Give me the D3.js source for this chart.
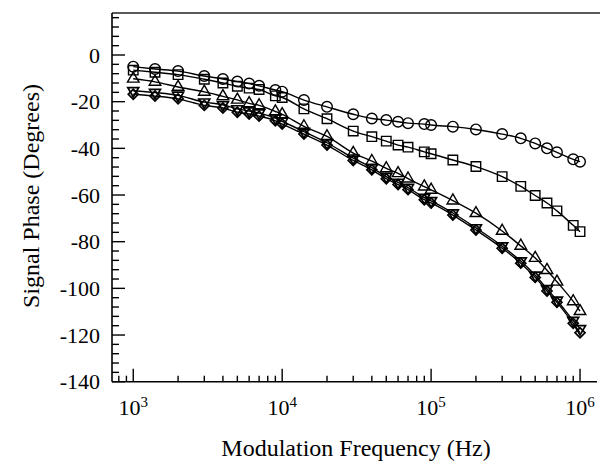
<!DOCTYPE html>
<html>
<head>
<meta charset="utf-8">
<script src="https://cdn.jsdelivr.net/npm/d3@7"></script>
<style>
  body { margin: 0; background: #fff; }
  svg { display: block; }
  text { font-family: "Liberation Serif", "Times New Roman", serif; fill: #000; }
</style>
</head>
<body>
<svg id="svg"></svg>
<script>
var width = 600, height = 464;

// modulation frequencies (Hz)
var freq = [1e3, 1.4e3, 2e3, 3e3, 4e3, 5e3, 6e3, 7e3, 9e3, 1e4,
            1.4e4, 2e4, 3e4, 4e4, 5e4, 6e4, 7e4, 9e4, 1e5,
            1.4e5, 2e5, 3e5, 4e5, 5e5, 6e5, 7e5, 9e5, 1e6];

// signal phase (degrees), one array per marker
var phaseCircle = [-5, -6, -6.9, -9, -10.3, -11.4, -12.2, -13.2, -15, -15.7,
                   -19.3, -22.2, -25.4, -27.2, -27.9, -28.6, -29.2, -29.6, -30,
                   -30.7, -31.9, -33.9, -35.7, -37.9, -40, -41.7, -44.7, -45.7];
var phaseSquare = [-6.5, -7.4, -8.4, -10.4, -12, -13.4, -14.2, -14.8, -17.5, -18.2,
                   -23.1, -27.3, -32.6, -35, -36.9, -38.6, -39.5, -41.5, -42.3,
                   -45, -47.8, -52.1, -56.3, -60.2, -63.4, -66.8, -73, -75.7];
var phaseTriangle = [-10.2, -11.5, -13.7, -15.8, -17.7, -19.2, -20.7, -21.6, -24.2, -25.4,
                     -30.6, -34.9, -42, -45.5, -48.6, -50.7, -53, -56.4, -57.8,
                     -62.4, -67.8, -75.4, -81.8, -87, -92.2, -97.2, -105.6, -109.8];
var phaseInvTriangle = [-15.3, -16.1, -17.3, -20.2, -21.3, -23.1, -24, -24.9, -27, -28.4,
                        -32.8, -37.6, -44.2, -48.3, -52.1, -54.6, -56.8, -61.1, -62.5,
                        -67.7, -74.1, -81.9, -88.3, -94.4, -100.2, -105.1, -113.8, -117.3];
var phaseDiamond = [-16.8, -17.6, -18.8, -21.6, -22.7, -24.5, -25.3, -26.2, -28.2, -29.6,
                    -33.9, -38.6, -45.2, -49.2, -53, -55.5, -57.7, -62, -63.4,
                    -68.6, -75, -82.8, -89.2, -95.3, -101.1, -106, -115, -119];

var yTickValues = [0, -20, -40, -60, -80, -100, -120, -140];
var xTickValues = [1e3, 1e4, 1e5, 1e6];
var xTickExp = ["3", "4", "5", "6"];

var series = [
    {values: phaseCircle, shape: "circle"},
    {values: phaseSquare, shape: "square"},
    {values: phaseTriangle, shape: "triangle"},
    {values: phaseInvTriangle, shape: "invtriangle"},
    {values: phaseDiamond, shape: "diamond"}
];

var plotLeft = 112, plotRight = 597, plotTop = 13, plotBottom = 381.7;

var x = d3.scaleLog().domain([720, 1.3e6]).range([plotLeft, plotRight]);
var y = d3.scaleLinear().domain([-140, 18]).range([plotBottom, plotTop]);

var svg = d3.select("#svg").attr("width", width).attr("height", height);

// frame: left axis, bottom axis, top line (no right border)
svg.append("line").attr("x1", plotLeft).attr("x2", width).attr("y1", plotTop).attr("y2", plotTop)
    .attr("stroke", "#222").attr("stroke-width", 1.5);
svg.append("line").attr("x1", plotLeft).attr("x2", plotLeft).attr("y1", plotTop).attr("y2", plotBottom)
    .attr("stroke", "#000").attr("stroke-width", 1.6);
svg.append("line").attr("x1", plotLeft).attr("x2", plotRight).attr("y1", plotBottom).attr("y2", plotBottom)
    .attr("stroke", "#000").attr("stroke-width", 1.6);

// y ticks: major every 20, minor every 4
var yMinor = d3.range(-140, 18, 4);
svg.selectAll(".yminor").data(yMinor).enter().append("line")
    .attr("x1", plotLeft).attr("x2", function(d) { return d % 20 === 0 ? plotLeft + 13 : plotLeft + 7; })
    .attr("y1", function(d) { return y(d); }).attr("y2", function(d) { return y(d); })
    .attr("stroke", "#000").attr("stroke-width", 1.4);

svg.selectAll(".ylab").data(yTickValues).enter().append("text")
    .attr("x", 100).attr("y", function(d) { return y(d); })
    .attr("dy", "0.35em").attr("text-anchor", "end")
    .style("font-size", "22px")
    .text(function(d) { return d === 0 ? "0" : "-" + Math.abs(d); });

// x ticks
var xMinor = [];
[100, 1000, 10000, 100000].forEach(function(dec) {
    for (var m = 2; m <= 9; ++m) {
        var v = dec * m;
        if (v > x.domain()[0] && v < x.domain()[1]) xMinor.push(v);
    }
});
svg.selectAll(".xminor").data(xMinor).enter().append("line")
    .attr("x1", function(d) { return x(d); }).attr("x2", function(d) { return x(d); })
    .attr("y1", plotBottom).attr("y2", plotBottom - 6)
    .attr("stroke", "#000").attr("stroke-width", 1.4);
svg.selectAll(".xmajor").data(xTickValues).enter().append("line")
    .attr("x1", function(d) { return x(d); }).attr("x2", function(d) { return x(d); })
    .attr("y1", plotBottom).attr("y2", plotBottom - 13)
    .attr("stroke", "#000").attr("stroke-width", 1.4);

var xl = svg.selectAll(".xlab").data(xTickValues).enter().append("text")
    .attr("x", function(d) { return x(d); }).attr("y", 415)
    .attr("text-anchor", "middle")
    .style("font-size", "22px");
xl.append("tspan").text("10");
xl.append("tspan").attr("dy", -8).style("font-size", "15px")
    .text(function(d, i) { return xTickExp[i]; });

// axis titles
svg.append("text").attr("x", 356).attr("y", 456).attr("text-anchor", "middle")
    .style("font-size", "24px").text("Modulation Frequency (Hz)");
svg.append("text").attr("transform", "translate(39,196) rotate(-90)")
    .attr("text-anchor", "middle")
    .style("font-size", "24px").text("Signal Phase (Degrees)");

// lines
var line = d3.line()
    .x(function(d) { return x(d[0]); })
    .y(function(d) { return y(d[1]); })
    .curve(d3.curveMonotoneX);

var symbols = {
    circle: d3.symbol().type(d3.symbolCircle).size(88),
    square: d3.symbol().type(d3.symbolSquare).size(90),
    triangle: d3.symbol().type(d3.symbolTriangle).size(58),
    invtriangle: d3.symbol().type(d3.symbolTriangle).size(52),
    diamond: d3.symbol().type(d3.symbolSquare).size(50)
};
var rotations = {circle: 0, square: 0, triangle: 0, invtriangle: 180, diamond: 45};

series.forEach(function(s) {
    var pts = freq.map(function(f, i) { return [f, s.values[i]]; });
    svg.append("path").datum(pts).attr("d", line)
        .attr("fill", "none").attr("stroke", "#000").attr("stroke-width", 1.4);
});

series.forEach(function(s) {
    var pts = freq.map(function(f, i) { return [f, s.values[i]]; });
    svg.selectAll(null).data(pts).enter().append("path")
        .attr("d", symbols[s.shape])
        .attr("transform", function(d) {
            return "translate(" + x(d[0]) + "," + y(d[1]) + ") rotate(" + rotations[s.shape] + ")";
        })
        .attr("fill", "none").attr("stroke", "#000")
        .attr("stroke-width", s.shape === "diamond" || s.shape === "invtriangle" ? 1.7 : 1.4);
});
</script>
</body>
</html>
